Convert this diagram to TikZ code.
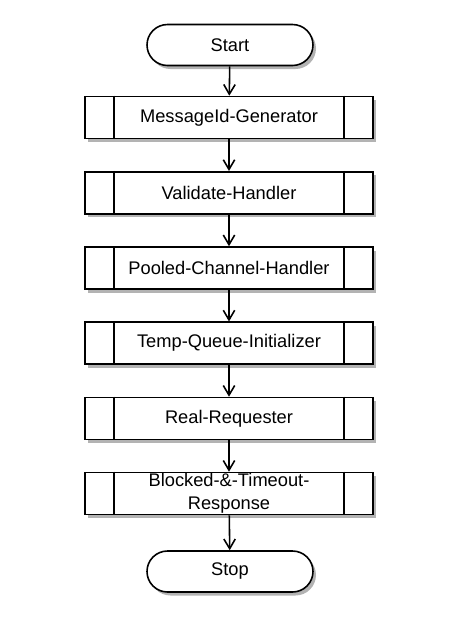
\documentclass[tikz,border=0pt]{standalone}
\usepackage{fontspec}
\setmainfont{Liberation Sans}
\usetikzlibrary{arrows.meta,shapes.misc,shadows}

\tikzset{
  terminal/.style={draw=black, line width=0.9pt, fill=white, rounded rectangle,
    minimum width=3.32cm, minimum height=0.82cm, inner sep=0pt,
    drop shadow={shadow xshift=0.06cm, shadow yshift=-0.07cm, opacity=0.6}},
  subproc/.style={draw=black, line width=0.9pt, fill=white, rectangle,
    minimum width=5.76cm, minimum height=0.84cm, inner sep=0pt, align=center,
    drop shadow={shadow xshift=0.06cm, shadow yshift=-0.07cm, opacity=0.6}},
  flow/.style={black, line width=0.9pt, -{Straight Barb[length=5.5pt, width=6.5pt]}}
}

\begin{document}
\begin{tikzpicture}[font=\fontsize{10.4pt}{12.8pt}\selectfont]
\useasboundingbox (0,0) rectangle (9.5,-12.4);
\node[terminal](start) at (4.6,-0.9){Start};
\node[subproc](b1) at (4.58,-2.35){MessageId-Generator};
\node[subproc](b2) at (4.58,-3.855){Validate-Handler};
\node[subproc](b3) at (4.58,-5.36){Pooled-Channel-Handler};
\node[subproc](b4) at (4.58,-6.865){Temp-Queue-Initializer};
\node[subproc](b5) at (4.58,-8.37){Real-Requester};
\node[subproc](b6) at (4.58,-9.87){Blocked-\&-Timeout-\\Response};
\node[terminal](stop) at (4.6,-11.43){Stop};
\foreach \i in {1,...,6}{
	\draw[black, line width=0.9pt]([xshift=0.6cm]b\i.north west)--([xshift=0.6cm]b\i.south west);
	\draw[black, line width=0.9pt]([xshift=-0.6cm]b\i.north east)--([xshift=-0.6cm]b\i.south east);
}
\foreach \a/\b in {start/b1, b1/b2, b2/b3, b3/b4, b4/b5, b5/b6, b6/stop}{
	\draw[flow](\a)--(\b);
}
\end{tikzpicture}
\end{document}
